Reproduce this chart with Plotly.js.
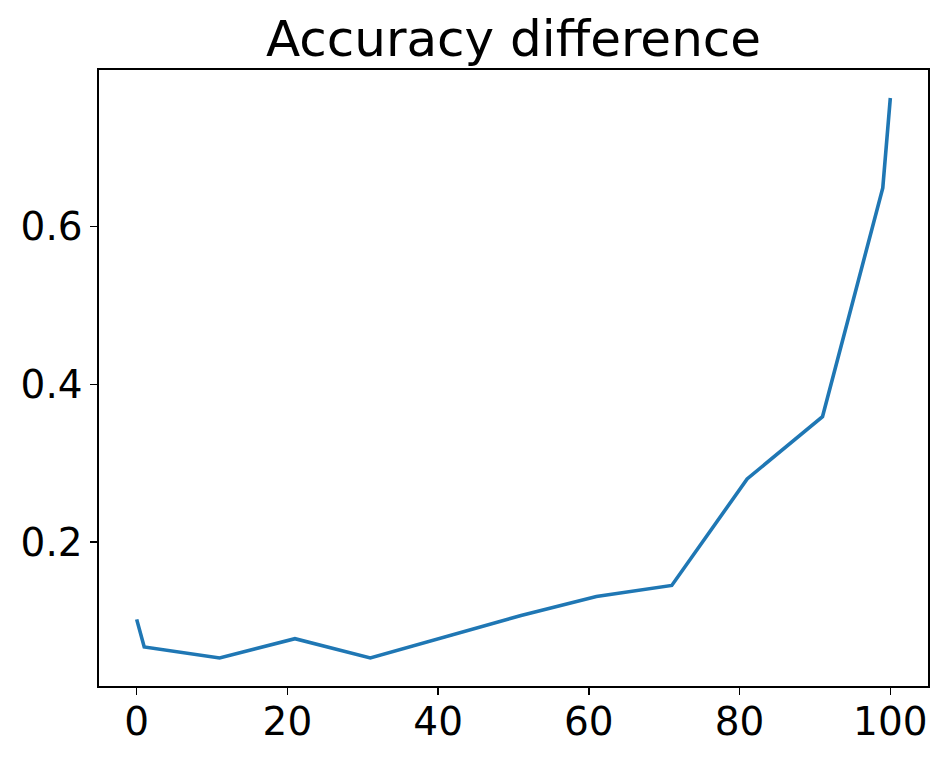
<!DOCTYPE html>
<html>
<head>
<meta charset="utf-8">
<script src="https://cdn.plot.ly/plotly-3.0.1.min.js"></script>
<style>
  body { margin: 0; background: #fff; }
  #plot { width: 947px; height: 760px; }
</style>
</head>
<body>
<div id="plot"></div>
<script>
// values
var steps = [0, 1, 11, 21, 31, 41, 51, 61, 71, 81, 91, 99, 100];
var accDiff = [0.102, 0.067, 0.053, 0.0775, 0.053, 0.080, 0.107, 0.131, 0.145, 0.280, 0.359, 0.649, 0.763];
var xTicks = [0, 20, 40, 60, 80, 100];
var yTicks = [0.2, 0.4, 0.6];

var trace1 = {
  x: steps,
  y: accDiff,
  type: "scatter",
  mode: "lines",
  line: { color: "#1f77b4", width: 3.6 },
  hoverinfo: "x+y"
};

var font = { family: "DejaVu Sans", size: 39, color: "#000" };

var axisStyle = {
  showgrid: false,
  zeroline: false,
  showline: true,
  mirror: true,
  linecolor: "#000",
  linewidth: 1.6,
  ticks: "outside",
  ticklen: 7,
  tickwidth: 1.6,
  tickcolor: "#000",
  tickfont: font
};

var layout = {
  width: 947,
  height: 760,
  margin: { l: 99, r: 19, t: 70, b: 74 },
  paper_bgcolor: "#fff",
  plot_bgcolor: "#fff",
  font: font,
  showlegend: false,
  title: {
    text: "Accuracy difference",
    font: { family: "DejaVu Sans", size: 50, color: "#000" },
    x: 0.5,
    xref: "paper",
    xanchor: "center",
    y: 0.949,
    yref: "container",
    yanchor: "middle"
  },
  xaxis: Object.assign({}, axisStyle, {
    range: [-5, 105],
    tickvals: xTicks,
    ticktext: xTicks.map(String),
    ticklabelstandoff: -6
  }),
  yaxis: Object.assign({}, axisStyle, {
    range: [0.0175, 0.7985],
    tickvals: yTicks,
    ticktext: yTicks.map(function (v) { return v.toFixed(1); })
  })
};

Plotly.newPlot("plot", [trace1], layout, { displayModeBar: false, staticPlot: true });
</script>
</body>
</html>
